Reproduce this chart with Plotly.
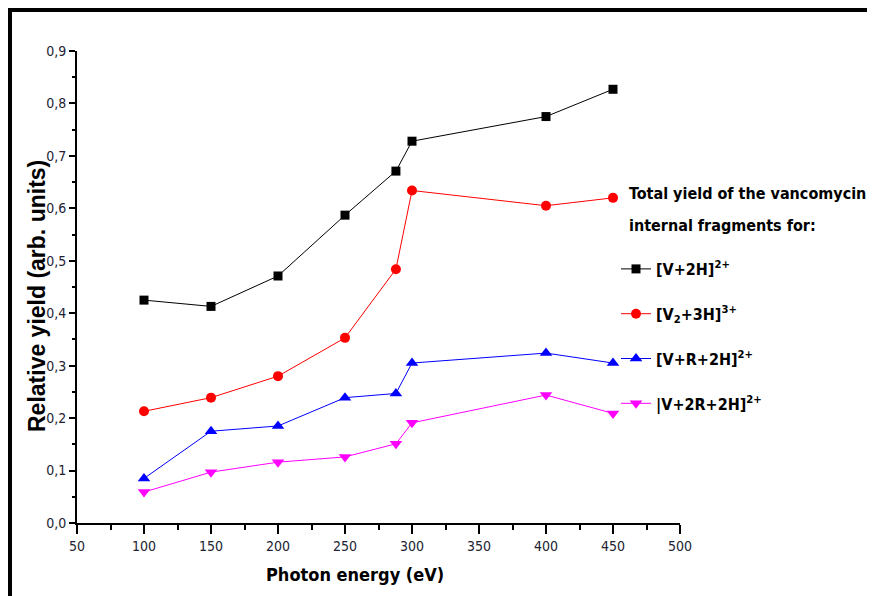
import plotly.graph_objects as go

energy = [100, 150, 200, 250, 288, 300, 400, 450]
v2h = [0.425, 0.413, 0.471, 0.587, 0.671, 0.728, 0.775, 0.827]
v23h = [0.213, 0.239, 0.280, 0.353, 0.484, 0.634, 0.605, 0.620]
vr2h = [0.085, 0.175, 0.185, 0.239, 0.247, 0.305, 0.324, 0.305]
v2r2h = [0.059, 0.097, 0.116, 0.126, 0.151, 0.191, 0.244, 0.209]

names = ["[V+2H]<sup>2+</sup>", "[V<sub>2</sub>+3H]<sup>3+</sup>",
         "[V+R+2H]<sup>2+</sup>", "|V+2R+2H]<sup>2+</sup>"]
colors = ["#000000", "#ff0000", "#0000ff", "#ff00ff"]
symbols = ["square", "circle", "triangle-up", "triangle-down"]
sizes = [9, 10, 11, 11]
series = [v2h, v23h, vr2h, v2r2h]

x_title = "Photon energy (eV)"
y_title = "Relative yield (arb. units)"
legend_heading = ["Total yield of the vancomycin", "internal fragments for:"]

NARROW = "DejaVu Sans Condensed, Liberation Sans Narrow, Arial Narrow, Liberation Sans"

fig = go.Figure()
for i, (nm, ys) in enumerate(zip(names, series)):
    fig.add_trace(go.Scatter(
        x=energy, y=ys, name=nm, mode="lines+markers",
        line=dict(color=colors[i], width=1),
        marker=dict(symbol=symbols[i], size=sizes[i], color=colors[i]),
        legendgroup=str(i),
    ))

PW, PH = 603.0, 472.0

def px(xp):
    return (xp - 77) / PW

def py(yp):
    return (523 - yp) / PH

fig.update_layout(
    width=867, height=588,
    margin=dict(l=69, r=195, t=43, b=73),
    paper_bgcolor="white", plot_bgcolor="white",
    separators=", ",
    showlegend=True,
    legend=dict(
        x=px(616), y=py(252), xanchor="left", yanchor="top",
        font=dict(family=NARROW, size=16, color="black", weight="bold"),
        tracegroupgap=21, bgcolor="rgba(0,0,0,0)",
    ),
    xaxis=dict(
        range=[50, 500], tickvals=[50, 100, 150, 200, 250, 300, 350, 400, 450, 500],
        showgrid=False, zeroline=False, showline=True, linecolor="black", linewidth=2,
        ticks="outside", ticklen=9, tickwidth=2, tickcolor="black",
        minor=dict(dtick=25, ticks="outside", ticklen=5, tickwidth=2, tickcolor="black"),
        tickfont=dict(family=NARROW, size=14, color="#222233"),
    ),
    yaxis=dict(
        range=[0, 0.9], tickvals=[0, 0.1, 0.2, 0.3, 0.4, 0.5, 0.6, 0.7, 0.8, 0.9],
        tickformat=".1f",
        showgrid=False, zeroline=False, showline=True, linecolor="black", linewidth=2,
        ticks="outside", ticklen=6, tickwidth=2, tickcolor="black",
        minor=dict(dtick=0.05, ticks="outside", ticklen=3, tickwidth=2, tickcolor="black"),
        tickfont=dict(family=NARROW, size=14, color="#222233"),
    ),
    shapes=[
        dict(type="line", xref="paper", yref="paper", x0=px(10), x1=px(10), y0=py(600), y1=py(8),
             line=dict(color="black", width=4)),
        dict(type="line", xref="paper", yref="paper", x0=px(8), x1=px(876), y0=py(10), y1=py(10),
             line=dict(color="black", width=4)),
        dict(type="line", xref="paper", yref="paper", x0=px(873.5), x1=px(873.5), y0=py(600), y1=py(10),
             line=dict(color="#888888", width=2)),
    ],
    annotations=[
        dict(text=legend_heading[0], xref="paper", yref="paper",
             x=px(627), y=py(193), xanchor="left", yanchor="middle",
             showarrow=False, font=dict(family=NARROW, size=16, color="black", weight="bold")),
        dict(text=legend_heading[1], xref="paper", yref="paper",
             x=px(627), y=py(225), xanchor="left", yanchor="middle",
             showarrow=False, font=dict(family=NARROW, size=16, color="black", weight="bold")),
        dict(text=x_title, xref="paper", yref="paper",
             x=px(355), y=py(574), xanchor="center", yanchor="middle",
             showarrow=False, font=dict(family=NARROW, size=18, color="black", weight="bold")),
        dict(text=y_title, xref="paper", yref="paper", textangle=-90,
             x=px(37), y=py(296), xanchor="center", yanchor="middle",
             showarrow=False, font=dict(family="Liberation Sans, Arial", size=23, color="black", weight="bold")),
    ],
)

fig.write_html("out.html")
